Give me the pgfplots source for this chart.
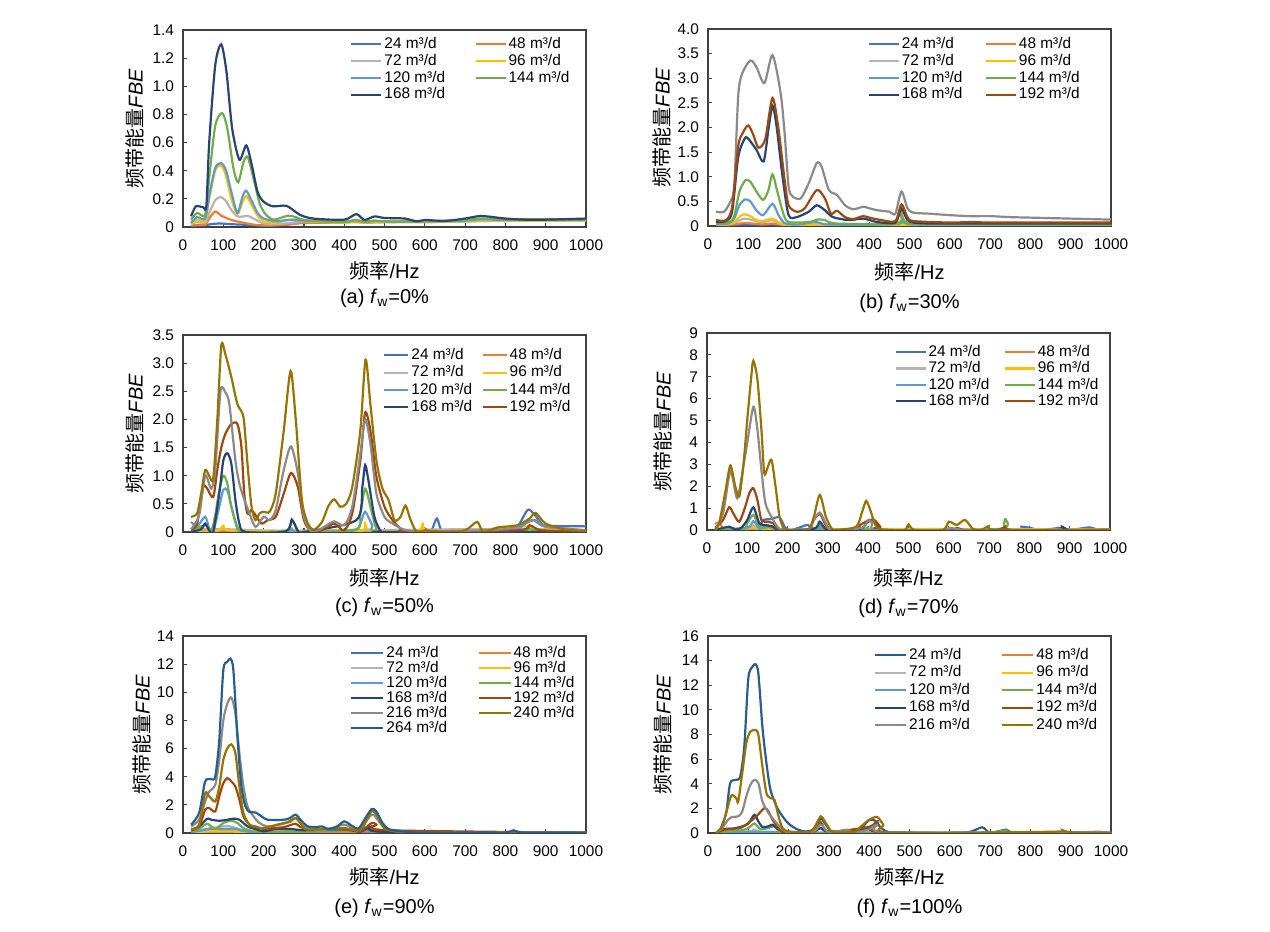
\documentclass[border=0pt]{standalone}
\usepackage{fontspec}
\setmainfont{Liberation Sans}
\newfontfamily\cjk{Noto Sans CJK SC}
\usepackage{pgfplots}
\pgfplotsset{compat=1.18}
\definecolor{c24}{HTML}{4472C4}
\definecolor{c48}{HTML}{ED7D31}
\definecolor{c72}{HTML}{B4B4B4}
\definecolor{c96}{HTML}{FFC000}
\definecolor{c120}{HTML}{5B9BD5}
\definecolor{c144}{HTML}{70AD47}
\definecolor{c168}{HTML}{264478}
\definecolor{c192}{HTML}{9E480E}
\definecolor{c216}{HTML}{8A8A8A}
\definecolor{c240}{HTML}{997300}
\definecolor{c264}{HTML}{255E91}
\newcommand\tickfont{\fontsize{7.7}{9}\selectfont}
\newcommand\labfont{\fontsize{10}{12}\selectfont}
\def\lw{44pt}
\def\ll{15pt}
\newcommand\LE[1]{\makebox[\lw][l]{#1 m³/d}}
\pgfplotsset{
  fbe/.style={
    scale only axis, width=201.5pt, height=98.5pt,
    xmin=0, xmax=1000, ymin=0,
    xtick={0,100,...,1000},
    /pgf/number format/assume math mode=true,
    /pgf/number format/1000 sep={},
    tick align=inside, xtick pos=left, ytick pos=left,
    major tick length=2pt,
    axis line style={black!75, line width=0.6pt},
    tick style={black!75, line width=0.6pt},
    xticklabel style={font=\tickfont, yshift=-3pt},
    yticklabel style={font=\tickfont, xshift=-1pt},
    xlabel={{\cjk 频率}/Hz},
    ylabel={{\cjk 频带能量}\textit{FBE}},
    label style={font=\labfont},
    ylabel style={at={(axis description cs:0,0.5)}, anchor=center},
    xlabel style={at={(axis description cs:0.5,0)}, anchor=center},
    every axis plot/.append style={line width=1.1pt, smooth, tension=0.45},
    legend columns=2, legend cell align=left,
    legend image code/.code={\draw[##1, line width=1.1pt] (0pt,0pt) -- (\ll,0pt);},
    legend style={draw=none, fill=none, inner sep=0pt, column sep=0pt,
      anchor=north west, font=\tickfont,
      nodes={inner xsep=1pt, inner ysep=0pt, text height=5.6pt, text depth=1.4pt}},
  }
}
\begin{document}
\begin{tikzpicture}
\path[use as bounding box] (0,0) rectangle (635pt,466pt);
% ---------------- (a)
\def\lw{44pt}\def\ll{15pt}
\begin{axis}[fbe, name=a, at={(91.5pt,352.5pt)}, anchor=south west,
  ymax=1.4, ytick={0,0.2,...,1.4}, yticklabels={0,0.2,0.4,0.6,0.8,1.0,1.2,1.4},
  xlabel style={yshift=-22pt}, ylabel style={yshift=24pt},
  legend style={at={(axis description cs:0.414,0.965)}, row sep=1.4pt}]
\addplot[c24] coordinates {(20,0.01)(50,0.012)(70,0.02)(90,0.025)(120,0.02)(160,0.015)(200,0.01)(250,0.015)(300,0.03)(400,0.035)(500,0.035)(600,0.04)(700,0.045)(800,0.045)(900,0.05)(1000,0.05)};
\addlegendentry{\LE{24}}
\addplot[c48] coordinates {(20,0.01)(40,0.015)(55,0.015)(65,0.06)(80,0.11)(95,0.08)(120,0.05)(150,0.03)(180,0.015)(210,0.01)(250,0.015)(300,0.03)(350,0.03)(430,0.035)(450,0.03)(500,0.035)(600,0.035)(700,0.04)(800,0.045)(900,0.045)(1000,0.05)};
\addlegendentry{\LE{48}}
\addplot[c72] coordinates {(20,0.02)(35,0.035)(55,0.03)(65,0.1)(80,0.19)(93,0.213)(105,0.19)(120,0.12)(135,0.075)(150,0.075)(160,0.08)(175,0.06)(200,0.025)(230,0.02)(270,0.03)(300,0.04)(350,0.035)(430,0.04)(500,0.035)(600,0.035)(700,0.04)(800,0.045)(1000,0.05)};
\addlegendentry{\LE{72}}
\addplot[c96] coordinates {(20,0.02)(35,0.05)(55,0.045)(65,0.2)(80,0.4)(93,0.44)(105,0.38)(120,0.2)(135,0.09)(148,0.18)(157,0.22)(168,0.17)(185,0.08)(200,0.04)(230,0.03)(260,0.05)(290,0.055)(320,0.04)(400,0.03)(430,0.045)(450,0.03)(475,0.04)(500,0.035)(600,0.035)(700,0.04)(740,0.05)(800,0.045)(1000,0.045)};
\addlegendentry{\LE{96}}
\addplot[c120] coordinates {(20,0.03)(35,0.07)(55,0.06)(65,0.22)(80,0.42)(95,0.454)(107,0.4)(120,0.25)(135,0.1)(148,0.22)(157,0.258)(168,0.2)(185,0.1)(200,0.06)(230,0.04)(260,0.05)(300,0.045)(350,0.04)(400,0.035)(430,0.05)(450,0.035)(475,0.045)(500,0.04)(600,0.04)(700,0.045)(740,0.055)(800,0.05)(1000,0.05)};
\addlegendentry{\LE{120}}
\addplot[c144] coordinates {(20,0.052)(35,0.1)(55,0.087)(65,0.35)(80,0.72)(97,0.81)(110,0.7)(125,0.42)(137,0.317)(150,0.46)(160,0.5)(172,0.38)(190,0.17)(205,0.09)(225,0.052)(260,0.08)(280,0.07)(300,0.05)(350,0.04)(400,0.035)(430,0.05)(450,0.035)(475,0.045)(500,0.04)(600,0.04)(700,0.05)(740,0.06)(800,0.055)(1000,0.055)};
\addlegendentry{\LE{144}}
\addplot[c168] coordinates {(20,0.076)(32,0.147)(50,0.14)(58,0.15)(65,0.6)(80,1.15)(95,1.298)(108,1.1)(122,0.7)(140,0.478)(157,0.58)(170,0.45)(185,0.25)(200,0.18)(223,0.147)(257,0.15)(290,0.087)(323,0.06)(400,0.052)(430,0.092)(450,0.05)(475,0.075)(500,0.064)(550,0.06)(580,0.04)(600,0.05)(650,0.043)(700,0.06)(740,0.078)(800,0.06)(850,0.052)(900,0.052)(1000,0.06)};
\addlegendentry{\LE{168}}
\end{axis}
\node[font=\labfont] at ([yshift=-35.5pt]a.south) {(a) \textit{f}\textsubscript{w}=0\%};
% ---------------- (b)
\def\lw{40.5pt}\def\ll{15pt}
\begin{axis}[fbe, name=b, at={(354pt,353pt)}, anchor=south west,
  ymax=4, ytick={0,0.5,...,4}, yticklabels={0,0.5,1.0,1.5,2.0,2.5,3.0,3.5,4.0},
  xlabel style={yshift=-23pt}, ylabel style={yshift=23pt},
  legend style={at={(axis description cs:0.395,0.96)}, row sep=1.4pt}]
\addplot[c216, forget plot] coordinates {(20,0.29)(40,0.29)(55,0.49)(65,0.8)(75,2.65)(85,3.1)(105,3.36)(120,3.23)(140,2.9)(160,3.47)(180,2.71)(190,1.9)(200,0.8)(210,0.6)(230,0.56)(250,0.87)(270,1.28)(282,1.2)(300,0.73)(320,0.63)(340,0.42)(360,0.34)(385,0.39)(400,0.36)(420,0.32)(450,0.29)(465,0.25)(480,0.7)(495,0.36)(510,0.27)(550,0.25)(600,0.22)(650,0.2)(700,0.2)(750,0.18)(800,0.17)(900,0.15)(1000,0.13)};
\addplot[c24] coordinates {(20,0.01)(90,0.03)(160,0.03)(220,0.01)(470,0.01)(480,0.04)(500,0.01)(1000,0.01)};
\addlegendentry{\LE{24}}
\addplot[c48] coordinates {(20,0.02)(60,0.03)(90,0.06)(110,0.05)(135,0.03)(160,0.05)(190,0.02)(250,0.02)(470,0.02)(480,0.05)(500,0.02)(1000,0.02)};
\addlegendentry{\LE{48}}
\addplot[c72] coordinates {(20,0.02)(60,0.05)(90,0.15)(110,0.12)(135,0.07)(160,0.12)(185,0.03)(250,0.02)(470,0.02)(480,0.06)(500,0.02)(1000,0.02)};
\addlegendentry{\LE{72}}
\addplot[c96] coordinates {(20,0.02)(50,0.03)(65,0.08)(80,0.2)(90,0.24)(105,0.2)(120,0.12)(135,0.1)(160,0.15)(175,0.08)(190,0.03)(250,0.02)(270,0.04)(300,0.02)(470,0.02)(480,0.1)(495,0.02)(1000,0.02)};
\addlegendentry{\LE{96}}
\addplot[c120] coordinates {(20,0.03)(50,0.05)(65,0.15)(78,0.42)(92,0.54)(105,0.5)(120,0.32)(137,0.22)(160,0.45)(175,0.22)(190,0.06)(220,0.03)(270,0.08)(300,0.03)(470,0.04)(480,0.18)(495,0.04)(600,0.03)(1000,0.03)};
\addlegendentry{\LE{120}}
\addplot[c144] coordinates {(20,0.05)(50,0.07)(65,0.2)(78,0.7)(93,0.93)(105,0.9)(120,0.7)(137,0.53)(150,0.73)(160,1.05)(172,0.7)(187,0.25)(200,0.08)(250,0.08)(272,0.13)(290,0.12)(320,0.05)(470,0.05)(480,0.27)(495,0.06)(600,0.04)(1000,0.03)};
\addlegendentry{\LE{144}}
\addplot[c168] coordinates {(20,0.08)(45,0.1)(60,0.3)(75,1.4)(90,1.76)(98,1.79)(120,1.55)(138,1.31)(150,1.96)(160,2.44)(170,2.03)(185,1.0)(200,0.22)(220,0.18)(250,0.29)(270,0.42)(290,0.32)(310,0.18)(350,0.12)(385,0.15)(420,0.08)(465,0.07)(480,0.36)(495,0.12)(520,0.06)(600,0.05)(1000,0.05)};
\addlegendentry{\LE{168}}
\addplot[c192] coordinates {(20,0.12)(45,0.12)(60,0.39)(75,1.62)(87,1.9)(100,2.04)(112,1.86)(125,1.59)(142,1.76)(160,2.6)(175,1.96)(190,0.94)(200,0.42)(220,0.29)(240,0.36)(270,0.73)(290,0.56)(305,0.25)(320,0.31)(340,0.18)(360,0.14)(385,0.2)(400,0.17)(430,0.12)(465,0.1)(480,0.44)(495,0.18)(510,0.1)(600,0.07)(650,0.08)(700,0.07)(800,0.07)(1000,0.07)};
\addlegendentry{\LE{192}}
\end{axis}
\node[font=\labfont] at ([yshift=-38.5pt]b.south) {(b) \textit{f}\textsubscript{w}=30\%};
% ---------------- (c)
\def\lw{34pt}\def\ll{12pt}
\begin{axis}[fbe, name=c, at={(91.5pt,200pt)}, anchor=south west,
  ymax=3.5, ytick={0,0.5,...,3.5}, yticklabels={0,0.5,1.0,1.5,2.0,2.5,3.0,3.5},
  xlabel style={yshift=-23pt}, ylabel style={yshift=24pt},
  legend style={at={(axis description cs:0.496,0.934)}, row sep=1.65pt}]
\addplot[c24] coordinates {(20,0.03)(100,0.01)(300,0)(580,0)(600,0.06)(615,0)(630,0.24)(645,0)(700,0.02)(800,0.03)(830,0.1)(855,0.39)(870,0.33)(890,0.15)(905,0.11)(1000,0.1)};
\addlegendentry{\LE{24}}
\addplot[c48] coordinates {(20,0.01)(450,0.03)(850,0.05)(1000,0.01)};
\addlegendentry{\LE{48}}
\addplot[c72] coordinates {(20,0.05)(100,0.05)(300,0.02)(850,0.05)(1000,0.01)};
\addlegendentry{\LE{72}}
\addplot[c96] coordinates {(20,0)(85,0.02)(100,0.11)(115,0.03)(260,0.01)(280,0.05)(300,0)(440,0.02)(452,0.15)(465,0.03)(580,0.01)(595,0.14)(610,0.02)(780,0.03)(800,0.09)(850,0.1)(880,0.05)(1000,0)};
\addlegendentry{\LE{96}}
\addplot[c120] coordinates {(20,0.18)(35,0.1)(55,0.27)(65,0.06)(75,0)(90,0.45)(100,0.75)(110,0.74)(120,0.45)(135,0.06)(150,0)(255,0)(270,0.06)(285,0)(420,0.02)(440,0.15)(452,0.36)(470,0.12)(490,0)(800,0.02)(850,0.15)(870,0.21)(900,0.09)(1000,0.03)};
\addlegendentry{\LE{120}}
\addplot[c144] coordinates {(20,0.02)(55,0.12)(70,0.02)(80,0.3)(90,0.74)(100,1.0)(110,0.86)(120,0.45)(135,0.09)(150,0)(255,0.02)(270,0.21)(285,0.03)(300,0)(430,0.05)(440,0.33)(452,0.77)(465,0.45)(480,0.06)(500,0)(830,0.02)(855,0.08)(875,0.03)(1000,0)};
\addlegendentry{\LE{144}}
\addplot[c168] coordinates {(20,0)(45,0.05)(55,0.15)(65,0.03)(75,0)(90,0.68)(100,1.27)(110,1.4)(120,1.21)(130,0.57)(140,0.15)(155,0)(255,0.01)(270,0.22)(285,0.02)(300,0)(430,0.21)(445,0.8)(452,1.19)(460,0.92)(475,0.27)(490,0.02)(500,0)(1000,0)};
\addlegendentry{\LE{168}}
\addplot[c192] coordinates {(20,0.04)(35,0.15)(50,0.8)(60,0.77)(75,0.62)(85,1.1)(95,1.5)(105,1.74)(120,1.92)(135,1.92)(145,1.51)(152,0.68)(160,0.33)(170,0.39)(180,0.3)(195,0.15)(210,0.21)(230,0.27)(250,0.68)(268,1.05)(285,0.8)(300,0.21)(320,0)(350,0.05)(375,0.15)(400,0.03)(420,0.33)(440,1.27)(452,2.12)(465,1.8)(480,0.98)(500,0.45)(520,0.21)(540,0.06)(560,0)(830,0.03)(860,0.12)(890,0.03)(1000,0)};
\addlegendentry{\LE{192}}
\addplot[c216, forget plot] coordinates {(20,0.05)(40,0.3)(55,1.0)(70,0.77)(80,1.1)(93,2.5)(105,2.48)(115,2.27)(130,1.27)(140,0.86)(150,0.62)(165,0.33)(180,0.09)(200,0.27)(215,0.21)(230,0.39)(250,1.1)(268,1.52)(285,1.04)(300,0.27)(320,0)(350,0.09)(375,0.19)(400,0.12)(420,0.45)(440,1.39)(452,2.0)(465,1.57)(480,0.68)(500,0.27)(520,0.15)(550,0.04)(600,0.01)(800,0.05)(860,0.2)(880,0.2)(900,0.1)(1000,0.03)};
\addplot[c240, forget plot] coordinates {(20,0.27)(35,0.33)(45,0.68)(55,1.1)(65,1.0)(75,0.95)(85,1.98)(95,3.31)(105,3.16)(120,2.75)(135,2.27)(150,2.04)(160,1.21)(170,0.45)(180,0.21)(190,0.33)(200,0.36)(215,0.36)(230,0.68)(250,1.8)(267,2.86)(280,1.98)(295,0.57)(310,0.15)(325,0.04)(345,0.18)(360,0.45)(375,0.58)(390,0.45)(405,0.5)(420,0.8)(440,1.8)(453,3.06)(465,2.27)(480,1.27)(495,0.77)(510,0.57)(525,0.21)(540,0.27)(552,0.47)(565,0.21)(580,0)(600,0.03)(650,0)(700,0.03)(730,0.18)(745,0)(780,0.08)(830,0.12)(860,0.24)(875,0.34)(900,0.15)(950,0.04)(1000,0.02)};
\end{axis}
\node[font=\labfont] at ([yshift=-37.5pt]c.south) {(c) \textit{f}\textsubscript{w}=50\%};
% ---------------- (d)
\def\lw{36.5pt}\def\ll{15pt}
\begin{axis}[fbe, name=d, at={(353.5pt,201pt)}, anchor=south west,
  ymax=9, ytick={0,1,...,9},
  xlabel style={yshift=-24pt}, ylabel style={yshift=22pt},
  legend style={at={(axis description cs:0.464,0.94)}, row sep=1.15pt}]
\addplot[c24] coordinates {(20,0)(100,0.05)(130,0.2)(140,0.46)(160,0.5)(180,0.58)(195,0.08)(210,0)(235,0.15)(250,0.23)(265,0.05)(300,0)(760,0)(780,0.15)(800,0.1)(830,0)(880,0.1)(900,0)(950,0.12)(970,0)(1000,0.05)};
\addlegendentry{\LE{24}}
\addplot[c48] coordinates {(20,0.28)(30,0.34)(40,0.08)(50,0)(300,0)(1000,0.02)};
\addlegendentry{\LE{48}}
\addplot[c72] coordinates {(20,0)(100,0.05)(115,0.2)(130,0.05)(200,0)(1000,0)};
\addlegendentry{\LE{72}}
\addplot[c96] coordinates {(20,0.02)(115,0.1)(200,0)(400,0.05)(1000,0.02)};
\addlegendentry{\LE{96}}
\addplot[c120] coordinates {(20,0)(100,0.1)(115,0.41)(130,0.05)(145,0.2)(160,0.1)(180,0)(265,0)(280,0.1)(300,0)(1000,0)};
\addlegendentry{\LE{120}}
\addplot[c144] coordinates {(20,0)(90,0.05)(100,0.3)(115,0.69)(130,0.15)(145,0.1)(160,0.15)(180,0)(265,0.05)(280,0.23)(295,0)(390,0.05)(400,0.15)(420,0)(725,0.05)(740,0.54)(755,0)(1000,0)};
\addlegendentry{\LE{144}}
\addplot[c168] coordinates {(20,0)(55,0.15)(70,0.02)(85,0.1)(100,0.46)(115,1.04)(130,0.3)(145,0.23)(165,0.15)(180,0)(265,0.05)(280,0.38)(300,0)(380,0.05)(395,0.3)(410,0.46)(425,0.15)(440,0)(860,0)(880,0.15)(900,0)(1000,0)};
\addlegendentry{\LE{168}}
\addplot[c192] coordinates {(20,0.1)(40,0.46)(55,1.04)(65,0.77)(80,0.38)(95,1.07)(105,1.68)(115,1.91)(125,1.38)(135,0.46)(150,0.38)(165,0.3)(180,0)(250,0)(265,0.46)(280,0.73)(295,0.2)(310,0)(370,0.05)(380,0.23)(400,0.43)(415,0.46)(430,0.15)(440,0)(600,0)(620,0.1)(640,0)(720,0)(740,0.15)(760,0)(1000,0)};
\addlegendentry{\LE{192}}
\addplot[c216, forget plot] coordinates {(20,0)(40,0.77)(58,2.68)(75,1.45)(90,2.9)(100,3.98)(115,5.63)(125,4.6)(135,2.75)(145,1.22)(160,0.6)(175,0.15)(190,0)(250,0)(265,0.46)(280,0.8)(295,0.3)(310,0)(385,0.1)(400,0.46)(410,0.3)(420,0)(590,0)(600,0.1)(620,0.05)(640,0)(1000,0)};
\addplot[c240, forget plot] coordinates {(20,0)(30,0.3)(45,1.7)(58,2.95)(70,2.0)(80,1.53)(90,2.9)(100,5.05)(110,7.04)(115,7.73)(125,6.9)(135,4.6)(142,2.6)(150,2.83)(160,3.21)(170,2.0)(180,0.6)(190,0.08)(200,0)(250,0)(265,0.6)(280,1.6)(295,0.6)(310,0.05)(320,0)(370,0.15)(385,0.84)(395,1.33)(405,0.92)(420,0.15)(440,0)(490,0)(500,0.26)(515,0)(585,0)(600,0.38)(620,0.23)(640,0.46)(660,0.05)(680,0)(700,0.18)(720,0)(1000,0)};
\end{axis}
\node[font=\labfont] at ([yshift=-39pt]d.south) {(d) \textit{f}\textsubscript{w}=70\%};
% ---------------- (e)
\def\lw{44.5pt}\def\ll{16pt}
\begin{axis}[fbe, name=e, at={(91.5pt,49.5pt)}, anchor=south west,
  ymax=14, ytick={0,2,...,14},
  xlabel style={yshift=-22pt}, ylabel style={yshift=20.5pt},
  legend style={at={(axis description cs:0.414,0.95)}, row sep=0.5pt}]
\addplot[c24] coordinates {(20,0.02)(100,0.05)(200,0.03)(470,0.05)(1000,0.02)};
\addlegendentry{\LE{24}}
\addplot[c48] coordinates {(20,0.05)(60,0.1)(120,0.12)(200,0.05)(470,0.1)(520,0.02)(1000,0.01)};
\addlegendentry{\LE{48}}
\addplot[c72] coordinates {(20,0.1)(60,0.3)(110,0.5)(150,0.2)(200,0.1)(280,0.2)(470,0.3)(520,0.02)(1000,0.01)};
\addlegendentry{\LE{72}}
\addplot[c96] coordinates {(20,0.02)(60,0.1)(120,0.1)(200,0.05)(470,0.3)(520,0.02)(1000,0.01)};
\addlegendentry{\LE{96}}
\addplot[c120] coordinates {(20,0.05)(50,0.2)(70,0.3)(100,0.3)(130,0.3)(150,0.15)(200,0.05)(470,0.2)(520,0.02)(1000,0.01)};
\addlegendentry{\LE{120}}
\addplot[c144] coordinates {(20,0.1)(40,0.3)(60,0.66)(80,0.28)(100,0.71)(120,0.87)(135,0.71)(150,0.35)(170,0.15)(200,0.05)(300,0.1)(470,0.3)(500,0.05)(1000,0.01)};
\addlegendentry{\LE{144}}
\addplot[c168] coordinates {(20,0.24)(40,0.47)(60,1.02)(70,0.94)(90,0.87)(110,0.94)(125,1.02)(140,0.94)(160,0.47)(180,0.28)(200,0.12)(230,0.28)(270,0.28)(300,0.2)(400,0.28)(440,0.1)(468,0.47)(500,0.08)(1000,0.02)};
\addlegendentry{\LE{168}}
\addplot[c192] coordinates {(20,0.19)(40,0.47)(55,1.65)(65,1.77)(80,1.53)(90,2.6)(100,3.54)(110,3.9)(120,3.66)(130,3.3)(140,2.36)(150,1.18)(165,0.59)(180,0.42)(200,0.3)(250,0.42)(280,0.66)(300,0.35)(400,0.25)(440,0.15)(468,0.71)(480,0.6)(500,0.2)(1000,0.02)};
\addlegendentry{\LE{192}}
\addplot[c216] coordinates {(20,0.47)(40,0.94)(55,2.24)(65,2.95)(80,3.42)(90,5.19)(100,8.0)(110,9.2)(120,9.63)(130,8.5)(140,5.67)(150,3.3)(160,1.89)(175,1.18)(190,0.71)(210,0.47)(250,0.66)(265,0.87)(280,1.06)(295,0.6)(310,0.35)(350,0.2)(400,0.59)(435,0.25)(468,1.3)(480,1.06)(500,0.35)(530,0.12)(600,0.03)(1000,0.02)};
\addlegendentry{\LE{216}}
\addplot[c240] coordinates {(20,0.24)(40,0.59)(55,2.83)(65,2.6)(80,2.24)(90,3.3)(100,5.19)(110,6.02)(120,6.3)(130,5.67)(140,3.3)(150,1.42)(165,0.59)(180,0.47)(200,0.35)(250,0.71)(265,0.78)(280,1.06)(295,0.55)(310,0.24)(400,0.35)(440,0.2)(468,1.53)(480,1.3)(500,0.35)(530,0.1)(600,0.02)(720,0.06)(760,0.05)(1000,0.02)};
\addlegendentry{\LE{240}}
\addplot[c264] coordinates {(20,0.59)(40,1.42)(55,3.66)(70,3.82)(80,4.01)(90,6.6)(100,11.57)(110,12.16)(118,12.39)(125,11.57)(135,6.85)(145,3.3)(155,1.89)(165,1.49)(180,1.46)(195,1.18)(210,0.94)(250,0.94)(265,1.06)(280,1.3)(295,0.83)(310,0.47)(330,0.42)(345,0.47)(360,0.28)(380,0.42)(400,0.83)(415,0.59)(435,0.31)(450,0.94)(468,1.7)(480,1.53)(495,0.71)(510,0.28)(530,0.17)(560,0.07)(600,0.03)(700,0.03)(750,0.05)(800,0.02)(820,0.19)(840,0.03)(900,0.02)(1000,0.02)};
\addlegendentry{\LE{264}}
\end{axis}
\node[font=\labfont] at ([yshift=-37.5pt]e.south) {(e) \textit{f}\textsubscript{w}=90\%};
% ---------------- (f)
\def\lw{45pt}\def\ll{15.5pt}
\begin{axis}[fbe, name=f, at={(354pt,49.5pt)}, anchor=south west,
  ymax=16, ytick={0,2,...,16},
  xlabel style={yshift=-22pt}, ylabel style={yshift=22.5pt},
  legend style={at={(axis description cs:0.411,0.94)}, row sep=1.75pt}]
\addplot[c264] coordinates {(20,0)(30,0.27)(45,1.62)(55,4.05)(70,4.32)(80,4.59)(90,7.0)(100,12.55)(110,13.49)(118,13.71)(125,12.95)(135,8.63)(145,5.67)(155,3.51)(170,2.16)(185,1.35)(200,0.76)(220,0.32)(240,0.13)(260,0.27)(280,1.16)(295,0.54)(310,0.05)(340,0.05)(370,0.05)(385,0.54)(400,1.05)(415,1.0)(430,0.4)(450,0.05)(500,0)(640,0.05)(680,0.46)(700,0.02)(740,0.27)(760,0.05)(900,0.05)(1000,0)};
\addlegendentry{\LE{24}}
\addplot[c48] coordinates {(20,0)(100,0.05)(300,0.03)(860,0.02)(880,0.1)(900,0.02)(1000,0)};
\addlegendentry{\LE{48}}
\addplot[c72] coordinates {(20,0)(100,0.1)(115,0.27)(130,0.1)(200,0)(1000,0)};
\addlegendentry{\LE{72}}
\addplot[c96] coordinates {(20,0)(100,0.1)(200,0)(400,0.05)(420,0.22)(440,0.02)(1000,0)};
\addlegendentry{\LE{96}}
\addplot[c120] coordinates {(20,0)(100,0.1)(130,0.1)(160,0.1)(200,0)(400,0.02)(420,0.1)(440,0)(1000,0)};
\addlegendentry{\LE{120}}
\addplot[c144] coordinates {(20,0)(50,0.2)(80,0.2)(100,0.4)(115,0.76)(130,0.32)(150,0.4)(165,0.54)(180,0.05)(200,0)(700,0)(720,0.1)(740,0.2)(760,0.05)(1000,0)};
\addlegendentry{\LE{144}}
\addplot[c168] coordinates {(20,0)(40,0.32)(60,0.35)(80,0.49)(100,0.76)(115,1.48)(125,0.94)(135,0.49)(150,0.54)(160,0.67)(175,0.3)(200,0.05)(260,0.1)(280,0.4)(300,0.1)(400,0.4)(420,0.76)(440,0.05)(1000,0)};
\addlegendentry{\LE{168}}
\addplot[c192] coordinates {(20,0)(40,0.27)(60,0.35)(80,0.4)(100,0.81)(120,1.35)(140,2.02)(150,1.75)(160,1.08)(175,0.4)(190,0.05)(260,0.1)(280,0.86)(300,0.1)(400,0.5)(420,0.94)(440,0.05)(1000,0)};
\addlegendentry{\LE{192}}
\addplot[c216] coordinates {(20,0)(35,0.4)(50,1.08)(60,1.3)(75,1.35)(85,1.75)(95,2.97)(105,3.91)(115,4.32)(125,4.05)(135,2.56)(150,1.62)(160,1.21)(170,0.81)(185,0.32)(200,0.05)(260,0.1)(280,0.67)(300,0.05)(345,0.27)(360,0.02)(400,0.3)(420,0.67)(440,0.05)(860,0.05)(880,0.19)(900,0.05)(970,0.1)(1000,0)};
\addlegendentry{\LE{216}}
\addplot[c240] coordinates {(20,0)(35,0.54)(45,1.62)(58,3.05)(70,2.83)(75,2.56)(85,4.86)(95,7.29)(105,8.23)(118,8.37)(125,7.96)(135,5.4)(145,3.24)(155,2.83)(165,2.7)(175,1.35)(185,0.4)(200,0.13)(250,0.05)(265,0.5)(280,1.35)(295,0.67)(310,0.05)(345,0.1)(365,0.1)(380,0.54)(400,1.08)(420,1.3)(435,0.67)(450,0.02)(850,0.1)(880,0.22)(900,0.05)(1000,0)};
\addlegendentry{\LE{240}}
\end{axis}
\node[font=\labfont] at ([yshift=-37.5pt]f.south) {(f) \textit{f}\textsubscript{w}=100\%};
\end{tikzpicture}
\end{document}
